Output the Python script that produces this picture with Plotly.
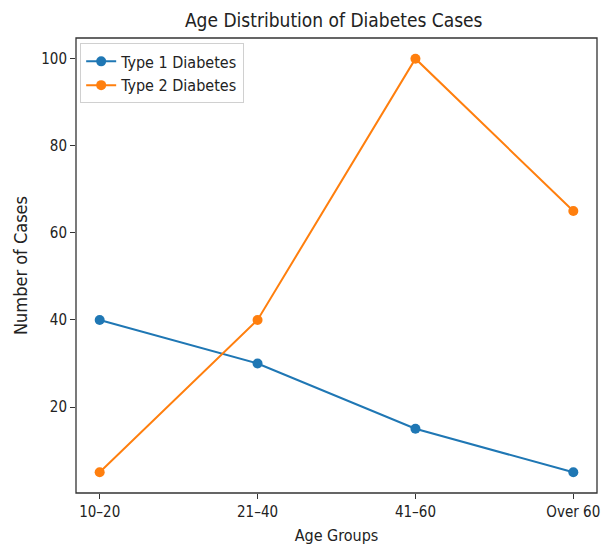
import plotly.graph_objects as go

age_groups = ["10–20", "21–40", "41–60", "Over 60"]
type1 = [40, 30, 15, 5]
type2 = [5, 40, 100, 65]
y_ticks = [20, 40, 60, 80, 100]

fig = go.Figure()
fig.add_trace(go.Scatter(x=list(range(len(age_groups))), y=type1, mode="lines+markers",
                         name="Type 1 Diabetes", line=dict(color="#1f77b4", width=2),
                         marker=dict(size=10, color="#1f77b4")))
fig.add_trace(go.Scatter(x=list(range(len(age_groups))), y=type2, mode="lines+markers",
                         name="Type 2 Diabetes", line=dict(color="#ff7f0e", width=2),
                         marker=dict(size=10, color="#ff7f0e")))

font = "DejaVu Sans Condensed, DejaVu Sans, sans-serif"
fig.update_layout(
    width=609, height=545,
    margin=dict(l=76, r=12, t=38, b=52, autoexpand=False),
    paper_bgcolor="white", plot_bgcolor="white",
    font=dict(family=font, size=14, color="#222"),
    title=dict(text="Age Distribution of Diabetes Cases", x=0.548, xanchor="center",
               y=0.963, yanchor="middle", font=dict(size=19, color="#222")),
    legend=dict(x=0.008, y=0.988, xanchor="left", yanchor="top",
                bgcolor="rgba(255,255,255,0.8)", bordercolor="#d0d0d0", borderwidth=1,
                font=dict(size=16), tracegroupgap=3),
    showlegend=True,
)
fig.add_shape(type="rect", xref="x domain", yref="y domain", x0=0, x1=1, y0=0, y1=1,
              line=dict(color="#333", width=1.3), fillcolor="rgba(0,0,0,0)", layer="above")
fig.update_xaxes(
    range=[-0.15, 3.15], tickmode="array", tickvals=list(range(len(age_groups))),
    ticktext=age_groups, showgrid=False, zeroline=False, showline=False, automargin=False,
    ticks="outside", ticklen=5, tickcolor="#333",
    title=dict(text="Age Groups", standoff=10, font=dict(size=16)), tickfont=dict(size=15),
)
fig.update_yaxes(
    range=[0.25, 104.75], tickmode="array", tickvals=y_ticks,
    showgrid=False, zeroline=False, showline=False, automargin=False,
    ticks="outside", ticklen=5, tickcolor="#333",
    title=dict(text="Number of Cases", standoff=8, font=dict(size=18)), tickfont=dict(size=15),
)

fig.write_html("out.html", config={"displayModeBar": False},
               post_script="document.body.style.margin='0px';document.body.style.overflow='hidden';")
